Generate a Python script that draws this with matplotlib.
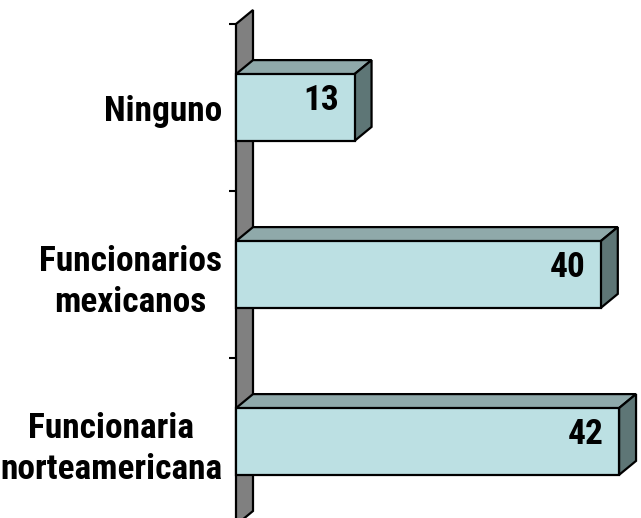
import matplotlib
matplotlib.use("Agg")
import matplotlib.pyplot as plt
from matplotlib.patches import Polygon

categories = ["Ninguno", "Funcionarios\nmexicanos", "Funcionaria\nnorteamericana"]
values = [13, 40, 42]
value_labels = ["13", "40", "42"]

plt.rcParams['font.family'] = ['Roboto Condensed', 'Pragati Narrow', 'DejaVu Sans']

W, H = 641, 518
fig = plt.figure(figsize=(W / 100, H / 100), dpi=100)

# axes in front plane
x0_px, top_px, bot_px = 236, 24, 525
xmax = 44
px_per_unit = 9.12
ax_w_px = xmax * px_per_unit
ax = fig.add_axes([x0_px / W, (H - bot_px) / H, ax_w_px / W, (bot_px - top_px) / H])
ax.set_xlim(0, xmax)
ax.set_ylim(2.5, -0.5)
cat_px = (bot_px - top_px) / 3.0

dx = 17 / px_per_unit
dy = 14 / cat_px  # upward shift (data y decreases upward)

face_c = "#BCE0E3"
top_c = "#8FA9AA"
side_c = "#5E7676"
wall_c = "#808080"
lw = 1.6

# wall
wall = Polygon([(0, -0.5), (dx, -0.5 - dy), (dx, 2.5 - dy), (0, 2.5)],
               closed=True, facecolor=wall_c, edgecolor="black", lw=lw,
               clip_on=False, zorder=1)
ax.add_patch(wall)

fs = 25.5
h = 0.4
for i, (v, lab) in enumerate(zip(values, value_labels)):
    t, b = i - h / 2, i + h / 2
    top = Polygon([(0, t), (v, t), (v + dx, t - dy), (dx, t - dy)], closed=True,
                  facecolor=top_c, edgecolor="black", lw=lw, clip_on=False, zorder=2)
    side = Polygon([(v, t), (v + dx, t - dy), (v + dx, b - dy), (v, b)], closed=True,
                   facecolor=side_c, edgecolor="black", lw=lw, clip_on=False, zorder=2)
    front = Polygon([(0, t), (v, t), (v, b), (0, b)], closed=True,
                    facecolor=face_c, edgecolor="black", lw=lw, clip_on=False, zorder=3)
    ax.add_patch(top)
    ax.add_patch(side)
    ax.add_patch(front)
    ax.text(v - 1.7, i - dy / 2, lab, ha="right", va="center",
            fontsize=fs, fontweight="bold", zorder=4)

for s in ax.spines.values():
    s.set_visible(False)
ax.set_xticks([])
ax.set_yticks([0, 1, 2])
ax.set_yticklabels(categories, fontsize=fs, fontweight="bold")
for tl in ax.get_yticklabels():
    tl.set_multialignment("center")
    tl.set_linespacing(1.3)
ax.tick_params(axis="y", which="major", length=0, pad=10)
ax.set_yticks([-0.5, 0.5, 1.5, 2.5], minor=True)
ax.tick_params(axis="y", which="minor", length=5, width=1.5, color="black")
ax.set_facecolor("none")

fig.savefig("out.png", dpi=100)
